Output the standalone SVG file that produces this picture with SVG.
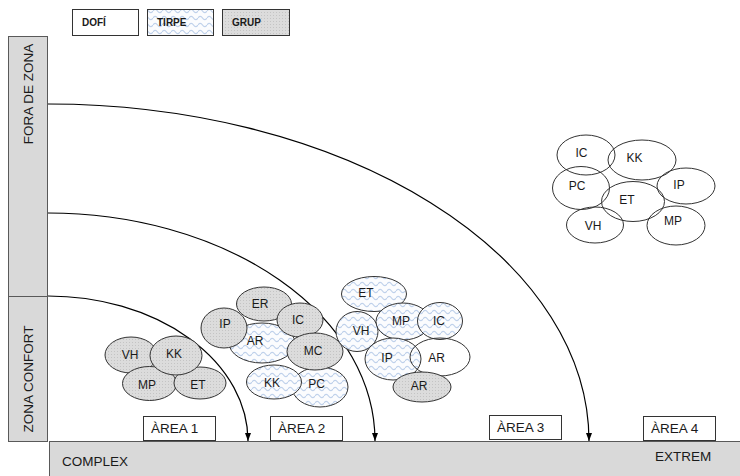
<svg xmlns="http://www.w3.org/2000/svg" width="740" height="476" viewBox="0 0 740 476">
  <defs>
    <!-- light blue wavy fill -->
    <pattern id="wave" width="9" height="7" patternUnits="userSpaceOnUse">
      <rect width="9" height="7" fill="#fbfcfe"/>
      <path d="M0,4 Q2.25,0.8 4.5,4 T9,4" fill="none" stroke="#bfd1eb" stroke-width="1.2"/>
    </pattern>
    <!-- grey dotted fill -->
    <pattern id="dots" width="3" height="3" patternUnits="userSpaceOnUse">
      <rect width="3" height="3" fill="#dcdcdc"/>
      <rect x="0" y="0" width="1" height="1" fill="#c4c4c4"/>
    </pattern>
    <marker id="arrow" viewBox="0 0 8 6" refX="8" refY="3" markerWidth="8" markerHeight="6" markerUnits="userSpaceOnUse" orient="auto">
      <path d="M0,0 L8,3 L0,6 z" fill="#000"/>
    </marker>
  </defs>
  <style>
    text { font-family: "Liberation Sans", Arial, sans-serif; fill: #1a1a1a; }
    .lbl { font-size: 12px; text-anchor: middle; }
    .leg { font-size: 10px; font-weight: bold; }
    .area { font-size: 13.5px; }
    .side { font-size: 13.5px; text-anchor: middle; }
    .bar { fill: #d9d9d9; stroke: #595959; stroke-width: 1; }
    .box { fill: #ffffff; stroke: #333; stroke-width: 1; }
    .e { stroke: #333; stroke-width: 1; }
    .dofi { fill: none; }
    .tirpe { fill: url(#wave); }
    .grup { fill: url(#dots); }
    .arc { fill: none; stroke: #000; stroke-width: 1.2; marker-end: url(#arrow); }
  </style>

  <rect width="740" height="476" fill="#ffffff"/>

  <!-- legend -->
  <g id="legend">
    <rect class="box" x="72.5" y="9.5" width="66" height="26"/>
    <text class="leg" x="82" y="26">DOFÍ</text>
    <rect class="e tirpe" x="147.5" y="9.5" width="66" height="26"/>
    <text class="leg" x="157" y="26">TIRPE</text>
    <rect class="e grup" x="222.5" y="9.5" width="67" height="26"/>
    <text class="leg" x="232" y="26">GRUP</text>
  </g>

  <!-- vertical scale -->
  <g id="side-scale">
    <rect class="bar" x="8.5" y="36.5" width="39" height="260"/>
    <rect class="bar" x="8.5" y="296.5" width="39" height="145"/>
    <text class="side" transform="translate(33,94) rotate(-90)">FORA DE ZONA</text>
    <text class="side" transform="translate(33,379) rotate(-90)">ZONA CONFORT</text>
  </g>

  <!-- horizontal scale -->
  <g id="bottom-scale">
    <rect class="bar" x="49.5" y="441.5" width="700" height="40"/>
    <text class="area" x="62" y="466">COMPLEX</text>
    <text class="area" x="655" y="461">EXTREM</text>
  </g>

  <!-- connectors -->
  <g id="connectors">
    <path class="arc" d="M48,104 A541,337 0 0 1 589,441"/>
    <path class="arc" d="M48,213 A327,228 0 0 1 375,441"/>
    <path class="arc" d="M48,296 A200,145 0 0 1 248,441"/>
  </g>

  <!-- area labels -->
  <g id="area-1">
    <rect class="box" x="143.5" y="416.5" width="72" height="24"/>
    <text class="area" x="151" y="433">ÀREA 1</text>
  </g>
  <g id="area-2">
    <rect class="box" x="270.5" y="416.5" width="72" height="24"/>
    <text class="area" x="278" y="433">ÀREA 2</text>
  </g>
  <g id="area-3">
    <rect class="box" x="489.5" y="415.5" width="72" height="24"/>
    <text class="area" x="497" y="432">ÀREA 3</text>
  </g>
  <g id="area-4">
    <rect class="box" x="643.5" y="416.5" width="72" height="24"/>
    <text class="area" x="651" y="433">ÀREA 4</text>
  </g>

  <!-- cluster in area 1 -->
  <g id="cluster-1">
    <ellipse class="e grup" cx="131" cy="355" rx="26" ry="18"/>
    <ellipse class="e grup" cx="149.5" cy="383.5" rx="27" ry="17"/>
    <ellipse class="e grup" cx="200" cy="383" rx="26" ry="16"/>
    <ellipse class="e grup" cx="176" cy="355.5" rx="26" ry="19.5"/>
    <text class="lbl" x="130" y="359">VH</text>
    <text class="lbl" x="174" y="358">KK</text>
    <text class="lbl" x="147" y="389">MP</text>
    <text class="lbl" x="198" y="389">ET</text>
  </g>

  <!-- cluster in area 2 -->
  <g id="cluster-2">
    <ellipse class="e tirpe" cx="262" cy="343" rx="33" ry="20"/>
    <ellipse class="e grup" cx="264" cy="304" rx="27.5" ry="17"/>
    <ellipse class="e grup" cx="224" cy="328" rx="23" ry="20"/>
    <ellipse class="e grup" cx="300" cy="320" rx="23" ry="17"/>
    <ellipse class="e tirpe" cx="320" cy="387" rx="28" ry="20"/>
    <ellipse class="e grup" cx="315" cy="351.5" rx="28" ry="18.5"/>
    <ellipse class="e tirpe" cx="274" cy="382" rx="27.5" ry="17"/>
    <text class="lbl" x="260" y="308">ER</text>
    <text class="lbl" x="225" y="328">IP</text>
    <text class="lbl" x="255" y="345">AR</text>
    <text class="lbl" x="298" y="324">IC</text>
    <text class="lbl" x="313" y="355">MC</text>
    <text class="lbl" x="272" y="387">KK</text>
    <text class="lbl" x="316.5" y="388">PC</text>
  </g>

  <!-- cluster in area 3 -->
  <g id="cluster-3">
    <ellipse class="e tirpe" cx="374" cy="294" rx="32.5" ry="17.5"/>
    <ellipse class="e tirpe" cx="357" cy="331.5" rx="21" ry="20"/>
    <ellipse class="e tirpe" cx="403" cy="321.5" rx="27" ry="18.5"/>
    <ellipse class="e tirpe" cx="440" cy="321" rx="22.5" ry="18.5"/>
    <ellipse class="e tirpe" cx="393" cy="359" rx="28" ry="21"/>
    <ellipse class="e dofi" cx="440" cy="357" rx="30" ry="19"/>
    <ellipse class="e grup" cx="422" cy="387" rx="29" ry="15"/>
    <text class="lbl" x="366" y="297">ET</text>
    <text class="lbl" x="361" y="335">VH</text>
    <text class="lbl" x="401" y="325">MP</text>
    <text class="lbl" x="439" y="325">IC</text>
    <text class="lbl" x="387" y="362">IP</text>
    <text class="lbl" x="436.5" y="362">AR</text>
    <text class="lbl" x="419" y="390">AR</text>
  </g>

  <!-- cluster in area 4 -->
  <g id="cluster-4">
    <ellipse class="e dofi" cx="586" cy="155" rx="29" ry="20"/>
    <ellipse class="e dofi" cx="642" cy="160" rx="34" ry="20"/>
    <ellipse class="e dofi" cx="581" cy="188" rx="28.5" ry="21.5"/>
    <ellipse class="e dofi" cx="686" cy="186" rx="29" ry="18"/>
    <ellipse class="e dofi" cx="633" cy="201.5" rx="31.5" ry="20"/>
    <ellipse class="e dofi" cx="595" cy="225" rx="28.5" ry="18"/>
    <ellipse class="e dofi" cx="676" cy="225.5" rx="29" ry="19.5"/>
    <text class="lbl" x="581.5" y="157">IC</text>
    <text class="lbl" x="634.5" y="162">KK</text>
    <text class="lbl" x="577" y="190">PC</text>
    <text class="lbl" x="679" y="189">IP</text>
    <text class="lbl" x="627" y="204">ET</text>
    <text class="lbl" x="593" y="230">VH</text>
    <text class="lbl" x="673" y="225">MP</text>
  </g>
</svg>
